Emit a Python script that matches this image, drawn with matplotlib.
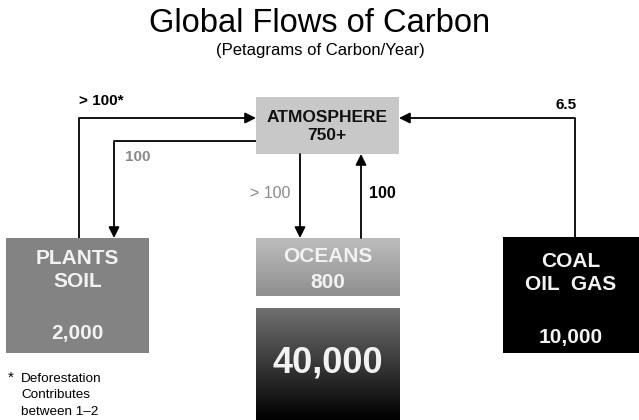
import numpy as np
import matplotlib
matplotlib.use("Agg")
import matplotlib.pyplot as plt

plt.rcParams['font.family'] = ['Liberation Sans', 'DejaVu Sans']

# carbon reservoirs (Pg C) and yearly flows (Pg C / year)
reservoirs = ["ATMOSPHERE", "PLANTS\nSOIL", "OCEANS", "COAL\nOIL  GAS"]
stocks = ["750+", "2,000", "800", "10,000"]
deep_ocean = "40,000"
flow_names = ["land_to_atm", "atm_to_land", "atm_to_ocean", "ocean_to_atm", "fossil_to_atm"]
flow_labels = ["> 100*", "100", "> 100", "100", "6.5"]
footnote = ["Deforestation", "Contributes", "between 1\u20132"]

W, H = 639, 420
fig = plt.figure(figsize=(W / 100, H / 100), dpi=100)
ax = fig.add_axes([0, 0, 1, 1])
ax.set_xlim(0, W)
ax.set_ylim(H, 0)
ax.axis('off')

# boxes: x0, x1, y0, y1 in pixel space
box_atm = (256, 399, 97, 154)
box_land = (6, 149, 238, 353)
box_ocean = (256, 400, 238, 296)
box_deep = (256, 400, 308, 420)
box_fossil = (503, 639, 237, 353)


def flat_box(b, color):
    ax.add_patch(plt.Rectangle((b[0], b[2]), b[1] - b[0], b[3] - b[2],
                               facecolor=color, edgecolor='none', zorder=1))


def grad_box(b, top, bottom):
    g = np.linspace(top, bottom, 200).reshape(-1, 1)
    img = np.repeat(g, 2, axis=1)
    ax.imshow(img, cmap='gray', vmin=0, vmax=1, aspect='auto',
              extent=(b[0], b[1], b[3], b[2]), zorder=1, interpolation='bilinear')


flat_box(box_atm, '#c8c8c8')
flat_box(box_land, '#838383')
grad_box(box_ocean, 0.74, 0.56)
grad_box(box_deep, 0.44, 0.0)
flat_box(box_fossil, '#000000')
ax.set_xlim(0, W)
ax.set_ylim(H, 0)

lw = 1.3
arrow_kw = dict(arrowstyle='-|>', color='black', lw=lw, mutation_scale=16,
                shrinkA=0, shrinkB=0)


def flow(points):
    xs = [p[0] for p in points]
    ys = [p[1] for p in points]
    if len(points) > 2:
        ax.plot(xs[:-1], ys[:-1], color='black', lw=lw, solid_capstyle='butt', zorder=2)
    ax.annotate('', xy=points[-1], xytext=points[-2], arrowprops=arrow_kw, zorder=2)


paths = {
    "land_to_atm": [(79, 238), (79, 118), (256, 118)],
    "atm_to_land": [(256, 141), (114, 141), (114, 238)],
    "atm_to_ocean": [(300, 154), (300, 238)],
    "ocean_to_atm": [(361, 238), (361, 154)],
    "fossil_to_atm": [(575, 237), (575, 118), (399, 118)],
}
for name in flow_names:
    flow(paths[name])

# flow labels
lab = dict(zip(flow_names, flow_labels))
ax.text(79, 101, lab["land_to_atm"], fontsize=11, fontweight='bold', ha='left', va='center')
ax.text(125, 157, lab["atm_to_land"], fontsize=11, fontweight='bold', color='#8a8a8a',
        ha='left', va='center')
ax.text(290, 193, lab["atm_to_ocean"], fontsize=11.5, color='#8a8a8a', ha='right', va='center')
ax.text(369, 193, lab["ocean_to_atm"], fontsize=11.5, fontweight='bold', ha='left', va='center')
ax.text(566, 105, lab["fossil_to_atm"], fontsize=11, fontweight='bold', ha='center', va='center')

# box labels
ax.text(327, 118, reservoirs[0], fontsize=12.5, fontweight='bold', color='#111111',
        ha='center', va='center')
ax.text(327, 136, stocks[0], fontsize=12.5, fontweight='bold', color='#111111',
        ha='center', va='center')

white = '#f2f2f2'
ax.text(77.5, 270, reservoirs[1], fontsize=15, fontweight='bold', color=white,
        ha='center', va='center', linespacing=1.25)
ax.text(77.5, 333, stocks[1], fontsize=15, fontweight='bold', color=white,
        ha='center', va='center')

ax.text(328, 257, reservoirs[2], fontsize=15, fontweight='bold', color=white,
        ha='center', va='center')
ax.text(328, 282, stocks[2], fontsize=15, fontweight='bold', color=white,
        ha='center', va='center')

ax.text(328, 363, deep_ocean, fontsize=26, fontweight='bold', color=white,
        ha='center', va='center')

ax.text(571, 273, reservoirs[3], fontsize=15, fontweight='bold', color=white,
        ha='center', va='center', linespacing=1.25)
ax.text(571, 337, stocks[3], fontsize=15, fontweight='bold', color=white,
        ha='center', va='center')

# title
ax.text(320, 24, "Global Flows of Carbon", fontsize=23.5, ha='center', va='center')
ax.text(320, 50, "(Petagrams of Carbon/Year)", fontsize=12, ha='center', va='center')

# footnote
ax.text(8, 378, "*", fontsize=11, ha='left', va='center')
for i, line in enumerate(footnote):
    ax.text(21, 379 + i * 16.5, line, fontsize=9.7, ha='left', va='center')

fig.savefig("out.png", dpi=100)
